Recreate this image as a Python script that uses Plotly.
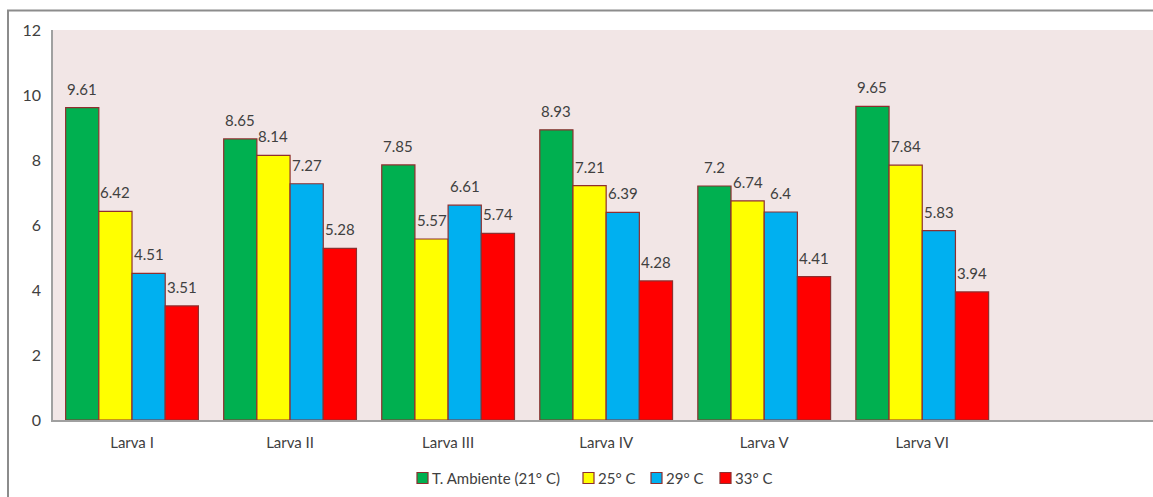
import plotly.graph_objects as go

# Stage labels
categories = ["Larva I", "Larva II", "Larva III", "Larva IV", "Larva V", "Larva VI"]

series_names = ["T. Ambiente (21° C)", "25° C", "29° C", "33° C"]
ambiente = [9.61, 8.65, 7.85, 8.93, 7.2, 9.65]
t25 = [6.42, 8.14, 5.57, 7.21, 6.74, 7.84]
t29 = [4.51, 7.27, 6.61, 6.39, 6.4, 5.83]
t33 = [3.51, 5.28, 5.74, 4.28, 4.41, 3.94]

y_ticks = [0, 2, 4, 6, 8, 10, 12]

colors = ["#00B050", "#FFFF00", "#00B0F0", "#FF0000"]
outline = "#8E2F2F"
text_color = "#404040"
font_family = "Lato, 'Open Sans', sans-serif"

# plot-area geometry in pixels (used to place the frame and legend)
W, H = 1153, 497
L, R, T, B = 53, 0, 30, 77
PW, PH = W - L - R, H - T - B


def px_x(px):
    return (px - L) / PW


def px_y(py):
    return (H - B - py) / PH


bargap = 0.16
n_series = len(series_names)
bar_w = (1 - bargap) / n_series
x_pos = list(range(len(categories)))

fig = go.Figure()
annotations = []
all_series = [ambiente, t25, t29, t33]
for k, (name, vals, col) in enumerate(zip(series_names, all_series, colors)):
    fig.add_trace(go.Bar(
        x=x_pos,
        y=vals,
        name=name,
        marker=dict(color=col, line=dict(color=outline, width=1.2)),
        showlegend=False,
    ))
    offset = (k - (n_series - 1) / 2) * bar_w
    for xi, v in zip(x_pos, vals):
        annotations.append(dict(
            x=xi + offset, y=v, xref="x", yref="y",
            text=str(v), showarrow=False,
            xanchor="center", yanchor="bottom", yshift=8,
            font=dict(size=15, color=text_color, family=font_family),
        ))

# legend drawn as swatches + labels below the axis
legend_sw_x = [417, 583, 651, 720]
legend_y = 478
shapes = [
    # outer chart frame
    dict(type="rect", xref="paper", yref="paper",
         x0=px_x(8), x1=px_x(1165),
         y0=px_y(520), y1=px_y(10.5),
         line=dict(color="#8C8C8C", width=2),
         fillcolor="rgba(0,0,0,0)", layer="below"),
]
for sx, col, name in zip(legend_sw_x, colors, series_names):
    shapes.append(dict(
        type="rect", xref="paper", yref="paper",
        x0=px_x(sx), x1=px_x(sx + 11),
        y0=px_y(legend_y + 5.5), y1=px_y(legend_y - 5.5),
        fillcolor=col, line=dict(color=outline, width=1.2),
    ))
    annotations.append(dict(
        x=px_x(sx + 13), y=px_y(legend_y), xref="paper", yref="paper",
        text=name, showarrow=False, xanchor="left", yanchor="middle",
        font=dict(size=15, color=text_color, family=font_family),
    ))

fig.update_layout(
    width=W,
    height=H,
    margin=dict(l=L, r=R, t=T, b=B, autoexpand=False),
    paper_bgcolor="white",
    plot_bgcolor="#F2E6E6",
    barmode="group",
    bargap=bargap,
    bargroupgap=0,
    font=dict(family=font_family, size=15, color=text_color),
    showlegend=False,
    xaxis=dict(
        range=[-0.5, 6.46],
        tickvals=x_pos,
        ticktext=categories,
        showline=True,
        linecolor="#A0A0A0",
        linewidth=2,
        ticks="",
        showgrid=False,
        zeroline=False,
        automargin=False,
        ticklabelstandoff=8,
        tickfont=dict(size=15, color=text_color),
    ),
    yaxis=dict(
        range=[0, 12],
        tickvals=y_ticks,
        ticktext=[str(t) for t in y_ticks],
        showline=True,
        linecolor="#A0A0A0",
        linewidth=1.5,
        showgrid=False,
        zeroline=False,
        ticks="",
        automargin=False,
        ticklabelstandoff=7,
        tickfont=dict(size=16, color=text_color),
    ),
    shapes=shapes,
    annotations=annotations,
)

fig.write_html("out.html")
